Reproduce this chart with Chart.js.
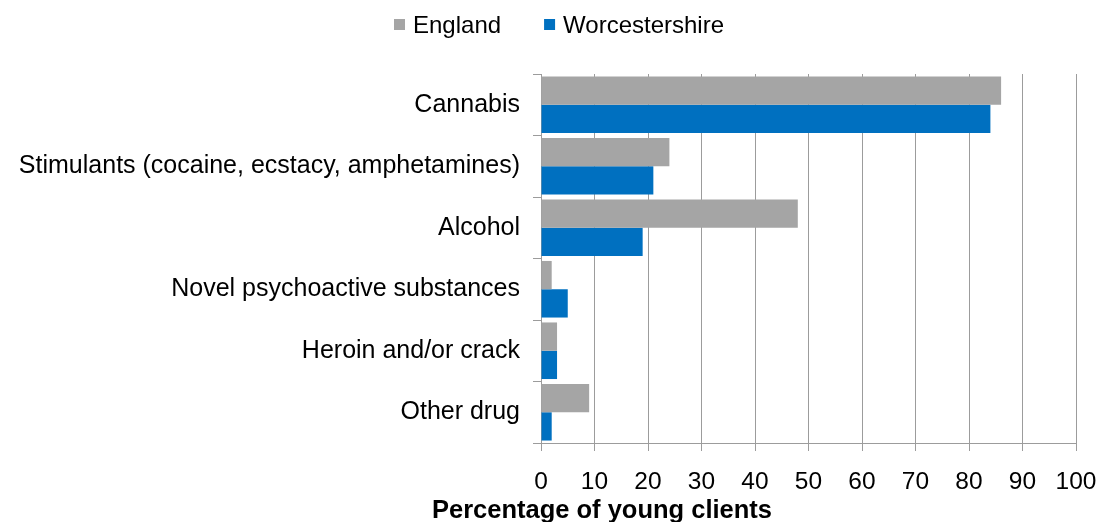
<!DOCTYPE html>
<html>
<head>
<meta charset="utf-8">
<title>Substances used by young clients</title>
<script src="https://cdn.jsdelivr.net/npm/chart.js@4.4.1/dist/chart.umd.min.js"></script>
<style>
  html, body { margin: 0; padding: 0; background: #fff; }
  #wrap { width: 1099px; height: 522px; }
</style>
</head>
<body>
<div id="wrap"><canvas id="chart" width="1099" height="522"></canvas></div>
<script>
// ================= DATA =================
const substances = [
    'Cannabis',
    'Stimulants (cocaine, ecstacy, amphetamines)',
    'Alcohol',
    'Novel psychoactive substances',
    'Heroin and/or crack',
    'Other drug'
];
const englandPct = [86, 24, 48, 2, 3, 9];
const worcsPct = [84, 21, 19, 5, 3, 2];

const seriesNames = ['England', 'Worcestershire'];
const seriesColours = ['#a5a5a5', '#0070c0'];
const xTitle = 'Percentage of young clients';

// ================= STYLE =================
const FONT = '"Liberation Sans", Arial, sans-serif';
const LINE = '#9c9c9c';

// legend row on top + bold axis title below (drawn by hand so they sit where we want)
const legendAndTitle = {
    id: 'legendAndTitle',
    afterDraw(chart) {
        const ctx = chart.ctx;
        ctx.save();
        ctx.font = '24px ' + FONT;
        ctx.textBaseline = 'middle';
        ctx.textAlign = 'left';
        let x = 394;
        const y = 25;
        chart.data.datasets.forEach(ds => {
            ctx.fillStyle = ds.backgroundColor;
            ctx.fillRect(x, y - 6, 11, 11);
            x += 11 + 8;
            ctx.fillStyle = '#000';
            ctx.fillText(ds.label, x, y + 1);
            x += ctx.measureText(ds.label).width + 43;
        });

        ctx.font = 'bold 25.5px ' + FONT;
        ctx.textAlign = 'center';
        ctx.fillText(xTitle, 602, 511);
        ctx.restore();
    }
};

// ================= CHART =================
const chart = new Chart(document.getElementById('chart'), {
    type: 'bar',
    data: {
        labels: substances,
        datasets: [
            { label: seriesNames[0], data: englandPct, backgroundColor: seriesColours[0] },
            { label: seriesNames[1], data: worcsPct, backgroundColor: seriesColours[1] }
        ]
    },
    options: {
        indexAxis: 'y',
        responsive: false,
        animation: false,
        categoryPercentage: 0.92,
        barPercentage: 1.0,
        layout: { padding: { top: 74, right: 23, bottom: 0, left: 0 } },
        plugins: {
            legend: { display: false },
            tooltip: { enabled: false }
        },
        scales: {
            x: {
                min: 0,
                max: 100,
                ticks: { stepSize: 10, color: '#000', font: { family: FONT, size: 24.5 }, padding: 17 },
                grid: { color: LINE, tickLength: 8 },
                border: { color: LINE },
                afterFit(scale) {
                    scale.height = 79;
                    // "100" may hang past the right edge, the padding already leaves room
                    scale.paddingLeft = 0;
                    scale.paddingRight = 0;
                }
            },
            y: {
                ticks: { color: '#000', font: { family: FONT, size: 25 }, padding: 13 },
                grid: { drawOnChartArea: false, offset: true, tickLength: 8, color: LINE },
                border: { color: LINE },
                afterFit(scale) { scale.width = 541; }
            }
        }
    },
    plugins: [legendAndTitle]
});
</script>
</body>
</html>
